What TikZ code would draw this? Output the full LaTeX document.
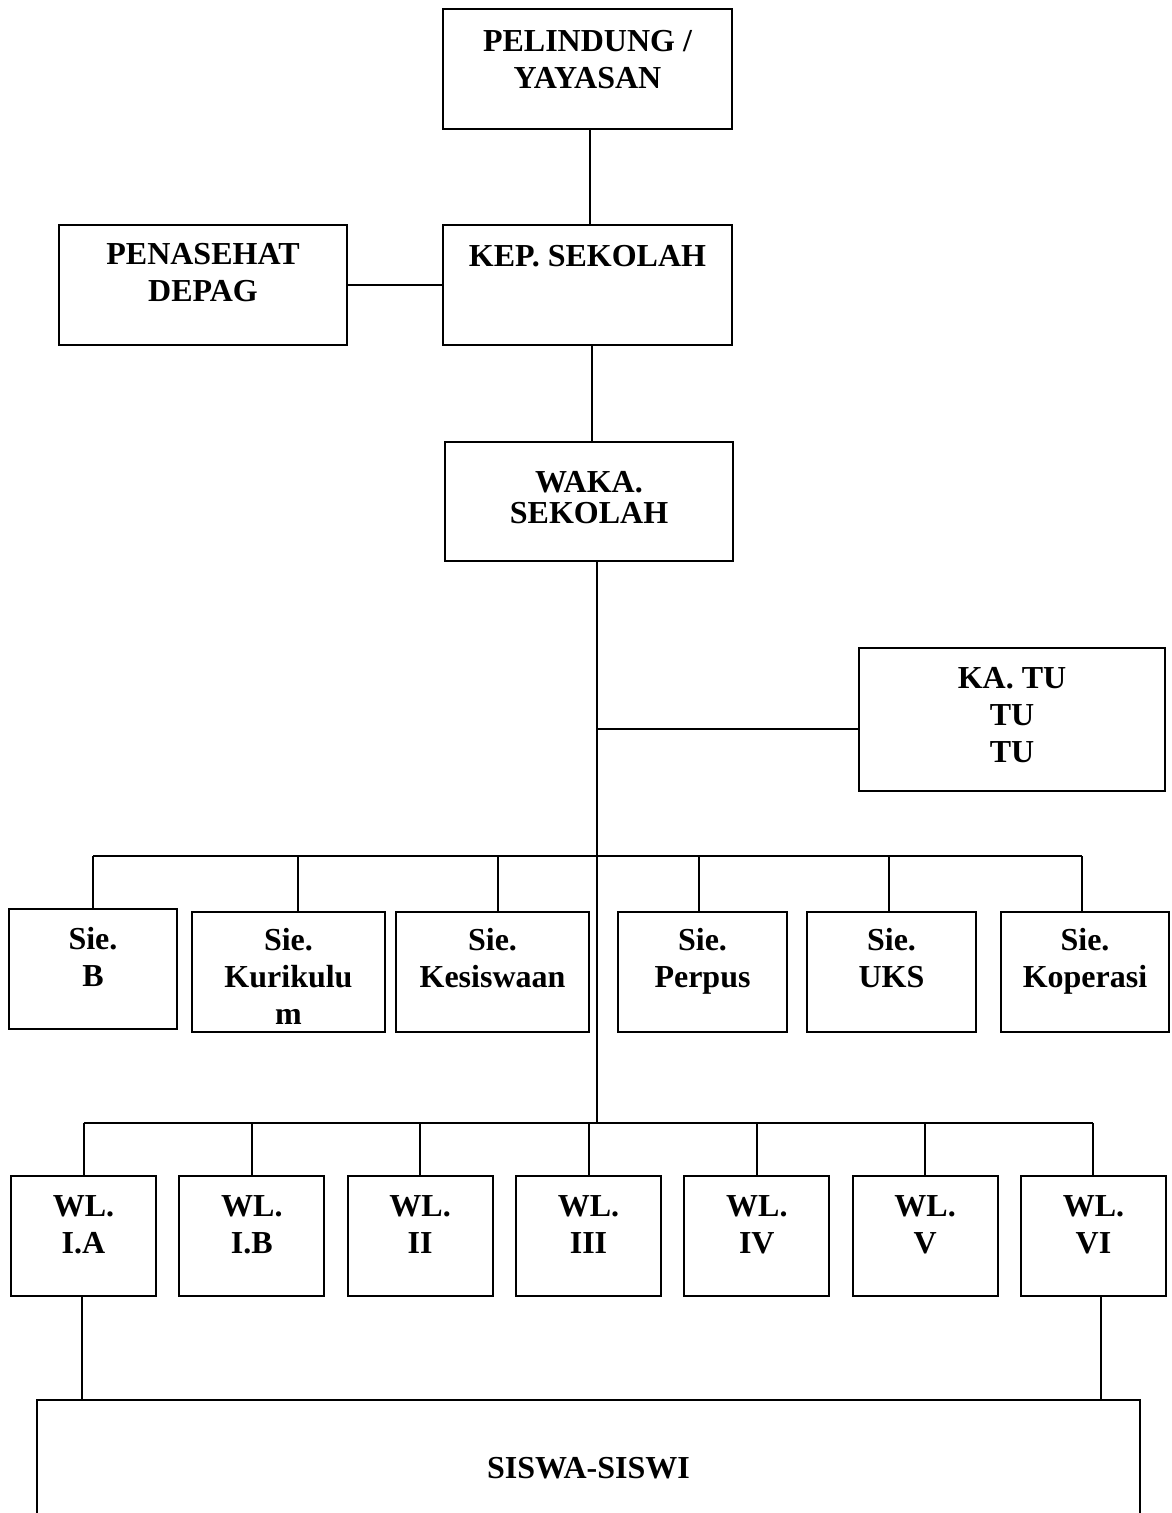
\documentclass[tikz,border=0pt]{standalone}
\usepackage{fontspec}
\setmainfont{Liberation Serif}
\usepackage{tikz}

% box text: width, height, first baseline, lines
\newcommand{\isi}[4]{\parbox[c][#2][t]{#1}{\centering\rule{0pt}{#3}#4\par}}

\begin{document}
\begin{tikzpicture}[
    x=0.5pt, y=-0.5pt,
    kotak/.style={draw, line width=1pt, inner sep=0pt, font=\fontsize{16}{18.5}\selectfont\bfseries},
    garis/.style={draw, line width=1pt}
]
\clip (0,0) rectangle (1171,1513);
\fill[white] (0,0) rectangle (1171,1513);

\node[kotak] (pel) at (587.5,69) {\isi{144.5pt}{60pt}{21.5pt}{PELINDUNG /\\YAYASAN}};
\node[kotak] (kep) at (587.5,285) {\isi{144.5pt}{60pt}{21pt}{KEP. SEKOLAH}};
\node[kotak] (pen) at (203,285) {\isi{144pt}{60pt}{20pt}{PENASEHAT\\DEPAG}};
\node[kotak] (waka) at (589,501.5) {\isi{144pt}{59.5pt}{25pt}{\fontsize{16}{15.5}\selectfont WAKA.\\SEKOLAH}};
\node[kotak] (katu) at (1012,719.5) {\isi{153pt}{71.5pt}{20pt}{KA. TU\\TU\\TU}};

\node[kotak] (sieb) at (93,969) {\isi{84pt}{60pt}{20pt}{Sie.\\B}};
\node[kotak] (siekur) at (288.5,972) {\isi{96.5pt}{60pt}{19pt}{Sie.\\Kurikulu\\m}};
\node[kotak] (siekes) at (492.5,972) {\isi{96.5pt}{60pt}{19pt}{Sie.\\Kesiswaan}};
\node[kotak] (sieper) at (702.5,972) {\isi{84.5pt}{60pt}{19pt}{Sie.\\Perpus}};
\node[kotak] (sieuks) at (891.5,972) {\isi{84.5pt}{60pt}{19pt}{Sie.\\UKS}};
\node[kotak] (siekop) at (1085,972) {\isi{84pt}{60pt}{19pt}{Sie.\\Koperasi}};

\foreach \kelas [count=\i from 0] in {I.A, I.B, II, III, IV, V, VI}
    \node[kotak] (wl\i) at ({83.5+168.33*\i},1236) {\isi{72.5pt}{60pt}{20pt}{WL.\\\kelas}};

\node[kotak] (siswa) at (588.5,1480) {\isi{551.5pt}{80pt}{39pt}{SISWA-SISWI}};

\coordinate (busie) at (597,856);
\coordinate (buswl) at (597,1123);

\draw[garis] ([xshift=1pt]pel.south) -- ([xshift=1pt]kep.north);
\draw[garis] (pen.east) -- (kep.west);
\draw[garis] ([xshift=2pt]kep.south) -- ([xshift=2pt]kep.south |- waka.north);
\draw[garis] (buswl |- waka.south) -- (buswl);
\draw[garis] ([yshift=-4.75pt]katu.west) -- ([yshift=-4.75pt]katu.west -| buswl);

\draw[garis] (sieb.north |- busie) -- ([xshift=-1.5pt]siekop.north |- busie);
\foreach \s/\g in {sieb/0pt, siekur/4.5pt, siekes/2.5pt, sieper/-2pt, sieuks/-1.5pt, siekop/-1.5pt}
    \draw[garis] ([xshift=\g]\s.north) -- ([xshift=\g]\s.north |- busie);

\draw[garis] (wl0.north |- buswl) -- (wl6.north |- buswl);
\foreach \i in {0,...,6}
    \draw[garis] (wl\i.north) -- (wl\i.north |- buswl);

\draw[garis] ([xshift=-1pt]wl0.south) -- ([xshift=-1pt]wl0.south |- siswa.north);
\draw[garis] ([xshift=4pt]wl6.south) -- ([xshift=4pt]wl6.south |- siswa.north);
\end{tikzpicture}
\end{document}
